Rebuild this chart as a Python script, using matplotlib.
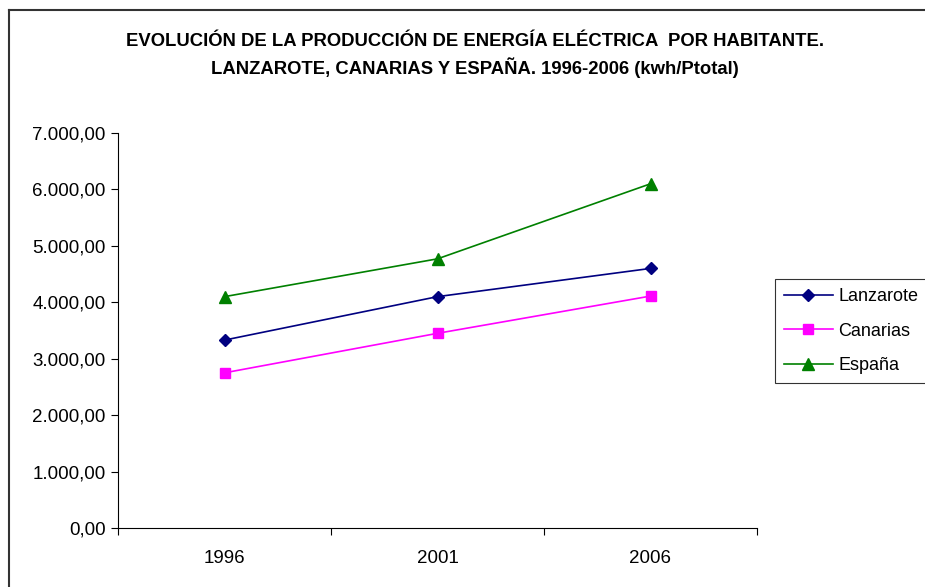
import numpy as np
import matplotlib.pyplot as plt
from matplotlib.ticker import FuncFormatter, FixedLocator, NullFormatter

# values (kwh per inhabitant)
years = ['1996', '2001', '2006']
lanzarote = [3330, 4100, 4600]
canarias = [2750, 3450, 4110]
espana = [4100, 4770, 6100]

plt.rcParams['font.family'] = ['Liberation Sans', 'DejaVu Sans']

fig = plt.figure(figsize=(9.25, 5.87), dpi=100)
ax = fig.add_axes([118/925, 1-528/587, (757-118)/925, (528-133)/587])

x = np.arange(len(years))
ax.plot(x, lanzarote, color='#000080', marker='D', markersize=6.5, linewidth=1.2, label='Lanzarote')
ax.plot(x, canarias, color='#FF00FF', marker='s', markersize=6.5, linewidth=1.2, label='Canarias')
ax.plot(x, espana, color='#008000', marker='^', markersize=8.5, linewidth=1.2, label='España')

ax.set_xlim(-0.5, 2.5)
ax.set_ylim(0, 7000)
ax.set_yticks(np.arange(0, 7001, 1000))
fmt = lambda v, p: f'{v:,.2f}'.replace(',', 'X').replace('.', ',').replace('X', '.')
ax.yaxis.set_major_formatter(FuncFormatter(fmt))

# category labels centered, ticks on the boundaries
ax.xaxis.set_major_locator(FixedLocator([-0.5, 0.5, 1.5, 2.5]))
ax.xaxis.set_major_formatter(NullFormatter())
ax.xaxis.set_minor_locator(FixedLocator(x))
ax.set_xticklabels(years, minor=True)
ax.tick_params(axis='x', which='minor', length=0, pad=16, labelsize=13.5)
ax.tick_params(axis='x', which='major', length=5, direction='out', width=0.8)
ax.tick_params(axis='y', length=5, direction='out', width=0.8, labelsize=13.5, pad=4)

for s in ['top', 'right']:
    ax.spines[s].set_visible(False)
for s in ['left', 'bottom']:
    ax.spines[s].set_linewidth(0.8)

fig.text(475/925, 1-41/587, 'EVOLUCIÓN DE LA PRODUCCIÓN DE ENERGÍA ELÉCTRICA  POR HABITANTE.',
         ha='center', va='center', fontsize=13.3, fontweight='bold')
fig.text(475/925, 1-68/587, 'LANZAROTE, CANARIAS Y ESPAÑA. 1996-2006 (kwh/Ptotal)',
         ha='center', va='center', fontsize=13.3, fontweight='bold')

leg = ax.legend(loc='upper left', bbox_to_anchor=(775/925, 1-279/587), bbox_transform=fig.transFigure,
                frameon=True, fancybox=False, edgecolor='black', fontsize=13, borderaxespad=0,
                handlelength=2.7, labelspacing=0.98, handletextpad=0.3, borderpad=0.5)
leg.get_frame().set_linewidth(0.8)

# outer chart border (only left and top visible)
fig.add_artist(plt.Line2D([8.5/925, 8.5/925], [0, 1-9.5/587], color='#333333', linewidth=1.5, transform=fig.transFigure))
fig.add_artist(plt.Line2D([8.5/925, 1], [1-9.5/587, 1-9.5/587], color='#333333', linewidth=1.5, transform=fig.transFigure))

fig.savefig('out.png', dpi=100)
